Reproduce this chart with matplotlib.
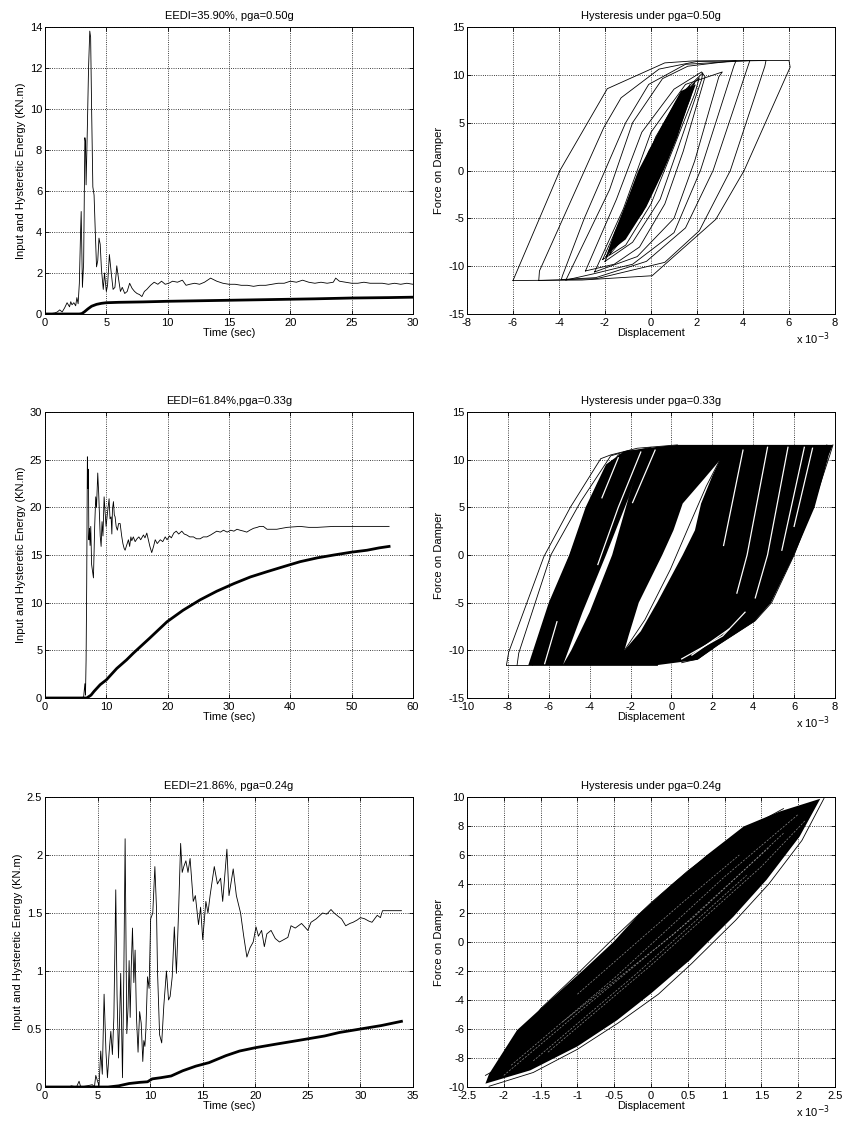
import matplotlib
matplotlib.use("Agg")
import matplotlib.pyplot as plt
import numpy as np
from matplotlib.ticker import FuncFormatter

plt.rcParams['font.family'] = ['Liberation Sans', 'DejaVu Sans']
plt.rcParams['font.size'] = 8

# ---------------- energy time histories (t [s], E [KN.m]) ----------------
input_energy_050 = np.array([
    (0, 0), (0.5, 0.02), (0.8, 0.05), (1.0, 0.1), (1.2, 0.2), (1.4, 0.1), (1.6, 0.3),
    (1.8, 0.55), (2.0, 0.35), (2.1, 0.6), (2.2, 0.45), (2.35, 0.55), (2.5, 0.4),
    (2.6, 0.8), (2.7, 0.5), (2.8, 1.5), (2.9, 4.0), (2.95, 5.0), (3.05, 1.3),
    (3.15, 2.5), (3.25, 8.6), (3.3, 8.4), (3.35, 6.3), (3.45, 9.0), (3.55, 12.0),
    (3.65, 13.8), (3.72, 13.5), (3.8, 10.0), (3.9, 6.2), (4.0, 5.8), (4.1, 4.0),
    (4.2, 2.3), (4.3, 2.6), (4.4, 3.7), (4.5, 3.4), (4.6, 2.2), (4.75, 1.2),
    (4.85, 2.0), (5.0, 1.1), (5.1, 1.4), (5.25, 2.9), (5.4, 2.0), (5.55, 1.2),
    (5.7, 1.3), (5.85, 2.35), (6.0, 1.7), (6.15, 1.1), (6.3, 1.3), (6.5, 1.0),
    (6.7, 1.1), (6.9, 1.5), (7.1, 1.25), (7.3, 1.1), (7.5, 1.0), (7.7, 0.95),
    (7.9, 0.85), (8.1, 1.1), (8.3, 1.2), (8.6, 1.4), (8.9, 1.55), (9.2, 1.45),
    (9.5, 1.6), (9.8, 1.45), (10.1, 1.5), (10.4, 1.6), (10.8, 1.55), (11.2, 1.65),
    (11.5, 1.4), (11.8, 1.45), (12.2, 1.5), (12.6, 1.45), (13.0, 1.55), (13.5, 1.75),
    (14.0, 1.6), (14.5, 1.5), (15.0, 1.45), (15.5, 1.45), (16.0, 1.4), (16.5, 1.4),
    (17.0, 1.35), (17.5, 1.4), (18.0, 1.4), (18.5, 1.45), (19.0, 1.5), (19.5, 1.5),
    (20.0, 1.6), (20.5, 1.55), (21.0, 1.65), (21.5, 1.55), (22.0, 1.5), (22.5, 1.55),
    (23.0, 1.5), (23.5, 1.55), (23.7, 1.75), (24.0, 1.6), (24.5, 1.55), (25.0, 1.5),
    (25.5, 1.5), (26.0, 1.55), (26.5, 1.5), (27.0, 1.5), (27.5, 1.5), (28.0, 1.45),
    (28.5, 1.5), (29.0, 1.45), (29.5, 1.5), (30.0, 1.45)])
hyst_energy_050 = np.array([
    (0, 0), (2.8, 0.0), (3.0, 0.02), (3.2, 0.1), (3.5, 0.25), (3.8, 0.38), (4.2, 0.47),
    (4.6, 0.52), (5.0, 0.55), (6, 0.57), (8, 0.59), (10, 0.62), (12, 0.64), (15, 0.67),
    (18, 0.7), (20, 0.72), (22, 0.74), (25, 0.78), (28, 0.8), (30, 0.82)])

input_energy_033 = np.array([
    (0, 0), (5.5, 0), (6.0, 0.05), (6.3, 0.1), (6.5, 1.5), (6.6, 0.3), (6.7, 4.0),
    (6.8, 12.0), (6.91, 25.3), (7.0, 22.0), (7.08, 24.0), (7.15, 16.6), (7.25, 17.8),
    (7.35, 16.0), (7.46, 18.0), (7.6, 14.0), (7.9, 12.6), (8.1, 18.0), (8.27, 21.1),
    (8.4, 20.0), (8.6, 23.6), (8.75, 21.5), (8.87, 19.4), (9.0, 17.0), (9.15, 15.9),
    (9.3, 18.5), (9.45, 17.0), (9.64, 21.1), (9.8, 19.5), (9.96, 18.0), (10.2, 19.5),
    (10.45, 20.9), (10.6, 18.8), (10.78, 19.0), (10.9, 17.2), (11.0, 19.8),
    (11.16, 20.6), (11.3, 19.2), (11.43, 19.0), (11.6, 18.0), (11.8, 17.6),
    (12.0, 18.3), (12.25, 18.3), (12.5, 17.0), (12.7, 16.2), (12.9, 15.7),
    (13.06, 15.5), (13.3, 16.0), (13.6, 16.6), (13.8, 15.9), (14.0, 16.9),
    (14.15, 16.5), (14.4, 16.9), (14.7, 16.4), (15.0, 16.7), (15.3, 16.9),
    (15.6, 16.6), (16.05, 17.1), (16.3, 16.8), (16.6, 17.3), (16.85, 16.6),
    (17.1, 15.9), (17.4, 15.25), (17.7, 15.9), (17.97, 16.6), (18.3, 16.2),
    (18.8, 16.6), (19.2, 16.4), (19.6, 16.9), (19.9, 16.6), (20.3, 17.0),
    (20.6, 16.8), (21.0, 17.3), (21.4, 17.5), (21.8, 17.2), (22.3, 17.5),
    (22.7, 17.2), (23.1, 17.1), (23.6, 16.9), (24.2, 16.9), (24.7, 16.7),
    (25.3, 16.7), (25.8, 16.9), (26.4, 16.9), (27.0, 17.1), (27.5, 17.3),
    (28.0, 17.5), (28.6, 17.4), (29.1, 17.6), (29.7, 17.4), (30.3, 17.6),
    (30.8, 17.5), (31.3, 17.7), (31.8, 17.6), (32.4, 17.5), (32.9, 17.4),
    (33.4, 17.6), (34.0, 17.8), (34.6, 17.9), (35.0, 18.0), (35.6, 18.0),
    (36.2, 17.7), (37.0, 17.7), (37.8, 17.7), (38.6, 17.8), (39.5, 17.9),
    (40.5, 17.95), (41.6, 18.0), (43.0, 17.9), (44.4, 17.9), (47.1, 18.0),
    (50.0, 18.0), (53.0, 18.0), (56.1, 18.0)])
hyst_energy_033 = np.array([
    (0, 0), (6.8, 0), (7.5, 0.3), (8.0, 0.7), (9.0, 1.4), (10.0, 1.9), (11.7, 3.1),
    (13.3, 4.0), (14.4, 4.7), (17.1, 6.3), (19.9, 8.0), (22.5, 9.2), (25.3, 10.3),
    (28, 11.2), (30.8, 12.0), (33.5, 12.7), (36.2, 13.25), (39, 13.8), (41.6, 14.3),
    (44.4, 14.7), (47.1, 15.0), (50, 15.3), (52.5, 15.5), (54.5, 15.75), (56.1, 15.9)])

input_energy_024 = np.array([
    (0, 0), (2.3, 0), (2.5, 0.01), (3.0, 0.0), (3.24, 0.05), (3.4, 0.0), (4.0, 0.01),
    (4.5, 0.02), (4.7, 0.0), (4.83, 0.1), (5.0, 0.05), (5.14, 0.01), (5.3, 0.31),
    (5.45, 0.11), (5.62, 0.8), (5.8, 0.3), (5.94, 0.08), (6.1, 0.3), (6.26, 0.48),
    (6.41, 0.28), (6.55, 0.6), (6.73, 1.7), (6.85, 0.8), (6.99, 0.25), (7.1, 0.6),
    (7.2, 0.98), (7.37, 0.08), (7.5, 1.0), (7.62, 2.14), (7.78, 0.46), (7.9, 0.69),
    (8.0, 1.09), (8.1, 0.6), (8.2, 1.02), (8.32, 1.37), (8.45, 0.9), (8.57, 1.18),
    (8.7, 0.6), (8.85, 0.3), (9.0, 0.65), (9.15, 0.55), (9.3, 0.22), (9.4, 0.4),
    (9.5, 0.35), (9.6, 0.5), (9.75, 0.95), (9.9, 0.85), (10.05, 1.45), (10.25, 1.5),
    (10.45, 1.9), (10.6, 1.55), (10.7, 1.0), (10.9, 0.45), (11.1, 0.38), (11.3, 0.7),
    (11.55, 1.0), (11.75, 0.75), (11.9, 0.78), (12.1, 0.95), (12.3, 1.38),
    (12.5, 0.98), (12.7, 1.5), (12.9, 2.1), (13.05, 1.85), (13.2, 1.9), (13.4, 1.95),
    (13.6, 1.85), (13.8, 1.97), (14.1, 1.6), (14.3, 1.65), (14.6, 1.4), (14.8, 1.55),
    (15.0, 1.27), (15.3, 1.6), (15.5, 1.5), (15.7, 1.65), (16.1, 1.9), (16.4, 1.75),
    (16.7, 1.8), (16.9, 1.6), (17.3, 2.05), (17.5, 1.65), (17.9, 1.88), (18.2, 1.65),
    (18.6, 1.5), (18.9, 1.3), (19.2, 1.12), (19.5, 1.2), (19.8, 1.25), (20.07, 1.38),
    (20.3, 1.3), (20.6, 1.35), (20.86, 1.21), (21.1, 1.32), (21.5, 1.35),
    (21.9, 1.28), (22.3, 1.25), (22.7, 1.27), (23.1, 1.29), (23.4, 1.39),
    (23.8, 1.37), (24.4, 1.41), (24.7, 1.38), (25.0, 1.35), (25.3, 1.42),
    (25.8, 1.45), (26.4, 1.5), (26.8, 1.49), (27.2, 1.53), (27.5, 1.5), (27.9, 1.47),
    (28.2, 1.45), (28.6, 1.39), (29.0, 1.41), (29.3, 1.42), (29.7, 1.44),
    (30.0, 1.46), (30.4, 1.45), (30.8, 1.43), (31.1, 1.42), (31.6, 1.48),
    (31.9, 1.46), (32.1, 1.52), (33.0, 1.52), (33.9, 1.52)])
hyst_energy_024 = np.array([
    (0, 0), (6, 0.0), (7, 0.01), (8, 0.03), (9, 0.04), (9.75, 0.045), (10.2, 0.07),
    (11, 0.08), (12, 0.095), (13.1, 0.14), (14.35, 0.18), (15.6, 0.21), (17.2, 0.27),
    (18.5, 0.31), (20.07, 0.34), (22, 0.37), (24, 0.4), (26.6, 0.44), (28, 0.47),
    (30, 0.5), (32, 0.53), (33.9, 0.566)])

# ---------------- hysteresis loops (displacement x1e-3, force) ----------------
loops_050 = [
    np.array([(-6.0, -11.5), (-3.96, 0), (-1.9, 8.55), (0.6, 11.25), (1.8, 11.45),
              (6.0, 11.5), (6.05, 10.8), (4.05, 0), (2.82, -5.1), (0.05, -11.0),
              (-3.0, -11.45), (-6.0, -11.5)]),
    np.array([(-4.88, -11.5), (-4.85, -10.5), (-2.05, 4.5), (-1.3, 7.6), (0.35, 10.6),
              (2.0, 11.4), (5.0, 11.5), (4.95, 10.9), (3.45, 0), (2.1, -6.3),
              (0.6, -9.6), (-2.35, -11.3), (-4.88, -11.5)]),
    np.array([(-3.9, -11.4), (-3.85, -11.0), (-2.9, -5.0), (-1.1, 5.0), (-0.1, 9.0),
              (1.5, 11.1), (4.3, 11.5), (4.2, 10.8), (2.7, 0), (1.5, -6.0),
              (-0.2, -9.5), (-2.4, -11.2), (-3.9, -11.4)]),
    np.array([(-3.7, -11.45), (-1.8, -2.0), (-0.8, 5.0), (0.5, 9.6), (1.6, 10.9),
              (3.7, 11.5), (3.6, 10.9), (2.15, 0), (1.0, -6.5), (-0.8, -9.8),
              (-2.5, -10.8), (-3.7, -11.45)]),
    np.array([(-2.85, -10.5), (-1.5, -3.0), (-0.4, 4.0), (1.0, 8.5), (2.2, 10.3),
              (2.35, 9.8), (1.4, 2.0), (0.6, -3.5), (-0.5, -8.0), (-1.6, -9.8),
              (-2.85, -10.5)]),
    np.array([(-2.45, -10.6), (-1.2, -4.0), (0.0, 4.0), (1.5, 9.0), (3.1, 10.3),
              (2.95, 9.8), (1.9, 1.0), (1.0, -5.0), (-0.6, -9.0), (-2.45, -10.6)]),
    np.array([(-2.0, -9.5), (-0.9, -3.5), (0.2, 3.5), (1.3, 8.0), (2.25, 10.2),
              (2.2, 9.5), (1.2, 2.5), (0.4, -3.0), (-0.8, -7.5), (-2.0, -9.5)]),
    np.array([(-2.1, -9.3), (-1.2, -4.5), (-0.1, 2.0), (1.1, 7.2), (2.1, 9.7),
              (1.9, 8.0), (1.0, 2.5), (0.0, -3.5), (-1.1, -7.8), (-2.1, -9.3)]),
    np.array([(-1.95, -9.0), (-0.8, -2.0), (0.6, 5.0), (1.9, 9.2), (1.7, 7.5),
              (0.7, 1.0), (-0.4, -4.5), (-1.95, -9.0)]),
    np.array([(-1.8, -8.8), (-0.9, -4.0), (0.3, 3.0), (1.7, 9.0), (1.2, 4.5),
              (0.1, -1.5), (-1.0, -6.5), (-1.8, -8.8)]),
]
core_050 = np.array([(-1.9, -8.7), (-1.1, -7.2), (-0.2, -3.8), (0.55, 0.0), (1.15, 3.5),
                     (1.6, 6.8), (1.95, 9.0), (1.3, 8.3), (0.5, 4.8), (-0.55, 0.0),
                     (-1.1, -3.5), (-1.6, -6.5), (-1.9, -8.7)])

dense_033 = np.array([(-7.0, -11.55), (-6.0, -5.0), (-5.0, 0.0), (-4.2, 5.0), (-3.2, 9.5),
                      (-2.3, 10.9), (-0.5, 11.4), (0.3, 11.55), (7.9, 11.55), (7.7, 10.5),
                      (7.0, 5.0), (6.0, 0.0), (4.87, -5.0), (4.05, -7.0), (2.25, -9.5),
                      (1.27, -11.0), (-0.7, -11.55)])
gaps_033 = [
    np.array([(-2.3, -10.0), (-1.5, -8.0), (-0.7, -5.0), (0.55, 0.0), (1.15, 2.6),
              (1.45, 5.4), (2.0, 8.3), (2.35, 9.9), (1.6, 8.0), (0.55, 5.4),
              (0.1, 2.6), (-0.45, 0.0), (-1.6, -5.0), (-2.1, -8.5)]),
    np.array([(-5.3, -11.5), (-4.9, -10.0), (-4.0, -6.0), (-2.9, 0.0), (-1.8, 8.2),
              (-2.1, 6.0), (-3.2, 0.0), (-4.35, -6.0)]),
]
white_lines_033 = [
    np.array([(4.7, 11.3), (3.7, 0.0), (3.2, -4.0)]),
    np.array([(5.7, 11.3), (4.7, 0.0), (4.1, -4.5)]),
    np.array([(3.5, 11.0), (2.55, 1.0)]),
    np.array([(6.5, 11.3), (5.4, 0.5)]),
    np.array([(6.9, 11.2), (6.0, 3.0)]),
    np.array([(-1.5, 10.8), (-2.6, 5.0), (-3.6, -1.0)]),
    np.array([(-0.8, 11.0), (-1.9, 5.5)]),
    np.array([(-2.6, 10.2), (-3.4, 6.0)]),
    np.array([(0.5, -10.9), (2.5, -8.5), (3.6, -6.0)]),
    np.array([(1.0, -10.5), (2.8, -7.8)]),
    np.array([(-6.2, -11.4), (-5.6, -7.0)]),
]
lines_033 = [
    np.array([(-8.07, -11.55), (-7.96, -10.2), (-6.24, -0.17), (-4.93, 5.06), (-3.46, 10.1),
              (-2.97, 10.5), (-1.67, 11.2), (0.29, 11.55)]),
    np.array([(-7.55, -11.55), (-7.47, -10.3), (-5.9, 0.0), (-4.44, 5.6), (-2.97, 10.4),
              (-2.0, 11.0)]),
    np.array([(-6.8, -11.55), (-6.7, -10.5), (-5.5, -3.0), (-4.6, 2.0), (-3.6, 7.5),
              (-2.6, 10.5), (-1.0, 11.3)]),
    np.array([(-8.07, -11.55), (-0.7, -11.55)]),
    np.array([(7.9, 11.55), (7.75, 10.5), (6.9, 5.0), (6.0, 0.0), (4.9, -5.0), (4.1, -6.9),
              (2.3, -9.4), (1.3, -10.9), (0.5, -11.3)]),
    np.array([(7.6, 11.55), (7.3, 10.0), (6.5, 5.0), (5.6, 0.0), (4.6, -4.5), (3.0, -8.2),
              (1.5, -10.0)]),
    np.array([(-2.3, -10.0), (-1.3, -6.8), (-0.05, -1.5), (0.95, 3.5), (1.7, 7.2), (2.35, 9.9)]),
]

lens_024 = np.array([(-2.25, -9.77), (-2.2, -9.1), (-1.82, -6.08), (-1.37, -4.0),
                     (-0.92, -1.94), (-0.51, 0.0), (-0.15, 2.0), (0.3, 4.05), (0.76, 6.0),
                     (1.26, 7.97), (1.75, 9.0), (2.3, 9.88), (2.02, 7.28), (1.57, 4.29),
                     (1.12, 1.75), (0.53, -1.24), (0.0, -3.55), (-0.46, -5.39),
                     (-1.0, -7.2), (-1.64, -8.85), (-2.25, -9.77)])
lines_024 = [
    np.array([(-2.25, -9.2), (-2.0, -8.5), (-1.5, -4.6), (-1.0, -2.2), (-0.5, 0.3),
              (0.0, 2.7), (0.5, 4.9), (1.15, 7.4), (1.8, 9.2)]),
    np.array([(-2.2, -9.95), (-1.6, -9.0), (-1.0, -7.4), (-0.45, -5.6), (0.1, -3.6),
              (0.55, -1.5), (1.15, 1.5), (1.6, 4.0), (2.05, 7.0), (2.35, 9.9)]),
]
streaks_024 = [
    np.array([(-1.9, -8.5), (-0.5, -2.5), (1.0, 4.5), (2.0, 8.8)]),
    np.array([(-1.6, -8.2), (-0.2, -2.2), (1.3, 4.6)]),
    np.array([(-1.2, -5.5), (0.3, 0.5), (1.6, 6.5)]),
    np.array([(-2.0, -9.2), (-0.9, -4.5), (0.6, 1.8), (1.8, 7.5)]),
    np.array([(-1.4, -7.6), (0.0, -1.6), (1.5, 5.2), (2.1, 8.4)]),
    np.array([(-1.0, -3.6), (0.4, 2.6), (1.2, 6.0)]),
]

W, H = 843, 1124
fig = plt.figure(figsize=(W / 100, H / 100), dpi=100)

col_x = [45, 467]
row_y = [(27, 314), (412, 698), (797, 1087)]
ax_w = 368


def make_axes(col, row):
    top, bot = row_y[row]
    return fig.add_axes([col_x[col] / W, 1 - bot / H, ax_w / W, (bot - top) / H])


def style(ax, xlim, ylim, xticks, yticks, title, xlabel, ylabel, mult=False):
    ax.set_xlim(xlim)
    ax.set_ylim(ylim)
    ax.set_xticks(xticks)
    ax.set_yticks(yticks)
    fmt = FuncFormatter(lambda v, p: f"{v:g}")
    ax.xaxis.set_major_formatter(fmt)
    ax.yaxis.set_major_formatter(fmt)
    ax.tick_params(direction='in', length=3, width=0.6, top=True, right=True,
                   labelsize=8)
    ax.tick_params(axis='x', pad=3)
    ax.tick_params(axis='y', pad=2)
    ax.grid(True, linestyle=':', color='k', linewidth=0.6)
    ax.set_axisbelow(True)
    for s in ax.spines.values():
        s.set_linewidth(0.7)
    ax.set_title(title, fontsize=8, pad=6)
    ax.set_xlabel(xlabel, fontsize=8, labelpad=0)
    ax.set_ylabel(ylabel, fontsize=8, labelpad=3)
    if mult:
        ax.text(0.985, -0.058, r'x 10$^{-3}$', transform=ax.transAxes,
                ha='right', va='top', fontsize=8)


# energy plots
energy_sets = [
    (input_energy_050, hyst_energy_050, (0, 30), (0, 14), range(0, 31, 5),
     range(0, 15, 2), "EEDI=35.90%, pga=0.50g"),
    (input_energy_033, hyst_energy_033, (0, 60), (0, 30), range(0, 61, 10),
     range(0, 31, 5), "EEDI=61.84%,pga=0.33g"),
    (input_energy_024, hyst_energy_024, (0, 35), (0, 2.5), range(0, 36, 5),
     np.arange(0, 2.51, 0.5), "EEDI=21.86%, pga=0.24g"),
]
for row, (inp, hys, xl, yl, xt, yt, title) in enumerate(energy_sets):
    ax = make_axes(0, row)
    ax.plot(inp[:, 0], inp[:, 1], color='k', lw=0.6)
    ax.plot(hys[:, 0], hys[:, 1], color='k', lw=2.0)
    style(ax, xl, yl, xt, yt, title, "Time (sec)",
          "Input and Hysteretic Energy (KN.m)")

# hysteresis pga=0.50g
ax = make_axes(1, 0)
ax.fill(core_050[:, 0], core_050[:, 1], color='k', lw=0)
for lp in loops_050:
    ax.plot(lp[:, 0], lp[:, 1], color='k', lw=0.6)
style(ax, (-8, 8), (-15, 15), range(-8, 9, 2), range(-15, 16, 5),
      "Hysteresis under pga=0.50g", "Displacement", "Force on Damper", mult=True)

# hysteresis pga=0.33g
ax = make_axes(1, 1)
ax.fill(dense_033[:, 0], dense_033[:, 1], color='k', lw=0)
for g in gaps_033:
    ax.fill(g[:, 0], g[:, 1], color='white', lw=0)
for wl in white_lines_033:
    ax.plot(wl[:, 0], wl[:, 1], color='white', lw=0.9)
for ln in lines_033:
    ax.plot(ln[:, 0], ln[:, 1], color='k', lw=0.6)
style(ax, (-10, 8), (-15, 15), range(-10, 9, 2), range(-15, 16, 5),
      "Hysteresis under pga=0.33g", "Displacement", "Force on Damper", mult=True)

# hysteresis pga=0.24g
ax = make_axes(1, 2)
ax.fill(lens_024[:, 0], lens_024[:, 1], color='k', lw=0)
for st in streaks_024:
    ax.plot(st[:, 0], st[:, 1], color='0.55', lw=0.5, dashes=(3, 2))
for ln in lines_024:
    ax.plot(ln[:, 0], ln[:, 1], color='k', lw=0.6)
style(ax, (-2.5, 2.5), (-10, 10), np.arange(-2.5, 2.51, 0.5), range(-10, 11, 2),
      "Hysteresis under pga=0.24g", "Displacement", "Force on Damper", mult=True)

fig.savefig("out.png", dpi=100)
